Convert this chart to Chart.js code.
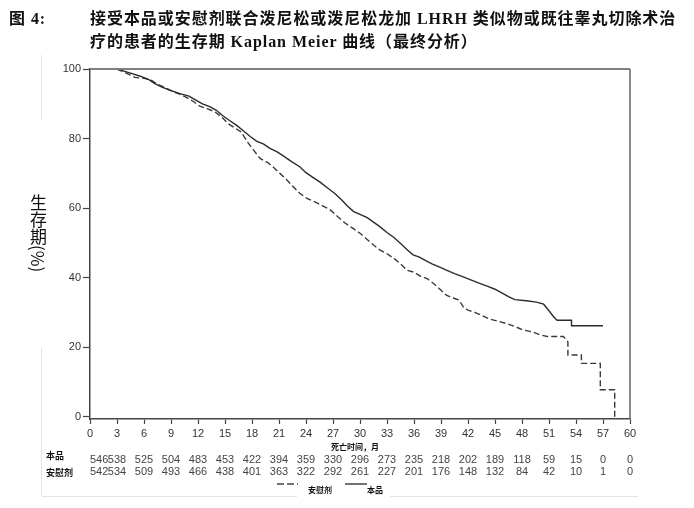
<!DOCTYPE html>
<html>
<head>
<meta charset="utf-8">
<script src="https://cdn.jsdelivr.net/npm/chart.js@4.4.1/dist/chart.umd.min.js"></script>
<style>
  html, body { margin: 0; padding: 0; background: #fff; }
  #wrap { position: relative; width: 694px; height: 508px; overflow: hidden; }
  canvas { position: absolute; left: 0; top: 0; }
  .title { position: absolute; font-family: "Liberation Serif", "Noto Sans CJK SC", serif; font-weight: bold; font-size: 16px; color: #111; white-space: nowrap; letter-spacing: 0.95px; }
  #ytitle { position: absolute; left: 30px; top: 194px; writing-mode: vertical-rl; text-orientation: mixed; font-family: "Noto Sans CJK SC", sans-serif; font-size: 17px; color: #111; line-height: 1; }
</style>
</head>
<body>
<div id="wrap">
  <canvas id="c" width="694" height="508"></canvas>
  <div class="title" style="left:9px; top:5px;">图 4:</div>
  <div class="title" style="left:90px; top:5px;">接受本品或安慰剂联合泼尼松或泼尼松龙加 LHRH 类似物或既往睾丸切除术治</div>
  <div class="title" style="left:90px; top:28px;">疗的患者的生存期 Kaplan Meier 曲线（最终分析）</div>
  <div id="ytitle">生存期(%)</div>
</div>
<script>
// ---- data ----
const drugMonths = [0, 3.0, 3.5, 4.5, 5.5, 6.5, 7.2, 8, 9, 10, 11, 11.8, 12.5, 13.3, 14, 14.8, 15.5, 16.3, 17, 17.8, 18.5, 19.3, 20, 20.8, 21.6, 22.4, 23.3, 24, 24.8, 25.6, 26.4, 27.2, 28, 28.6, 29.3, 30, 30.8, 31.5, 32.2, 33, 33.8, 34.6, 35.3, 35.9, 36.6, 37.3, 38, 38.8, 39.6, 40.5, 41.4, 42.3, 43.3, 44.2, 45, 45.8, 46.5, 47.2, 48.5, 49.6, 50.4, 51.0, 51.5, 51.9, 53.5, 53.5, 57.0];
const drugSurv = [100, 100, 99.6, 98.8, 98.0, 97.0, 95.8, 94.8, 93.8, 92.9, 92.2, 91.0, 90.0, 89.2, 88.2, 86.5, 85.2, 83.8, 82.3, 80.6, 79.3, 78.4, 77.2, 76.2, 74.8, 73.4, 71.9, 70.2, 68.8, 67.4, 65.8, 64.2, 62.3, 60.6, 59.0, 58.2, 57.3, 56.0, 54.7, 53.0, 51.5, 49.6, 47.9, 46.6, 45.9, 44.9, 44.0, 43.1, 42.2, 41.2, 40.3, 39.4, 38.4, 37.5, 36.7, 35.6, 34.6, 33.7, 33.4, 33.0, 32.4, 30.5, 28.8, 27.8, 27.8, 26.2, 26.2];
const placeboMonths = [0, 3.0, 3.6, 4.2, 5.0, 6.0, 6.8, 7.5, 8.2, 9.0, 9.8, 10.6, 11.4, 12.2, 13.0, 13.8, 14.6, 15.3, 16.0, 16.8, 17.5, 18.2, 18.9, 19.8, 20.5, 21.1, 21.8, 22.5, 23.3, 24.1, 25.0, 25.9, 26.7, 27.5, 28.3, 29.1, 30.0, 30.8, 31.5, 32.2, 33.0, 33.8, 34.5, 35.2, 36.0, 36.7, 37.5, 38.2, 39.0, 39.6, 40.3, 41.0, 41.5, 42.0, 42.8, 43.5, 44.3, 45.2, 46.2, 47.2, 48.1, 49.2, 50.0, 50.8, 52.6, 53.1, 53.1, 54.6, 54.6, 56.7, 56.7, 58.3, 58.3];
const placeboSurv = [100, 100, 99.3, 98.6, 97.6, 97.3, 96.8, 95.6, 94.8, 93.8, 92.9, 92.0, 90.8, 89.3, 88.6, 87.8, 86.3, 84.4, 83.2, 81.9, 79.0, 76.6, 74.3, 73.0, 71.5, 70.0, 68.3, 66.4, 64.3, 62.8, 61.8, 60.6, 59.5, 57.6, 55.8, 54.4, 52.8, 51.0, 49.4, 48.0, 46.9, 45.5, 44.0, 42.2, 41.6, 40.5, 39.7, 38.3, 36.4, 35.0, 34.2, 33.6, 31.5, 30.7, 30.0, 29.2, 28.2, 27.6, 26.9, 26.0, 25.0, 24.4, 23.6, 23.1, 23.1, 21.6, 17.8, 17.8, 15.4, 15.4, 7.8, 7.8, 0];
const riskTimes = [0, 3, 6, 9, 12, 15, 18, 21, 24, 27, 30, 33, 36, 39, 42, 45, 48, 51, 54, 57, 60];
const riskDrug = [546, 538, 525, 504, 483, 453, 422, 394, 359, 330, 296, 273, 235, 218, 202, 189, 118, 59, 15, 0, 0];
const riskPlacebo = [542, 534, 509, 493, 466, 438, 401, 363, 322, 292, 261, 227, 201, 176, 148, 132, 84, 42, 10, 1, 0];
const xTicks = [0, 3, 6, 9, 12, 15, 18, 21, 24, 27, 30, 33, 36, 39, 42, 45, 48, 51, 54, 57, 60];
const yTicks = [0, 20, 40, 60, 80, 100];
const rowLabels = ['本品', '安慰剂'];
const xTitle = '死亡时间，月';
const legendLabels = ['安慰剂', '本品'];

const toPts = (xs, ys) => xs.map((x, i) => ({ x: x, y: ys[i] }));

const extras = {
  id: 'extras',
  afterDraw(chart) {
    const ctx = chart.ctx;
    const xs = chart.scales.x, ys = chart.scales.y;
    const a = chart.chartArea;
    ctx.save();
    // faint scan frame lines
    ctx.strokeStyle = '#e4e4e4';
    ctx.lineWidth = 1;
    ctx.beginPath();
    ctx.moveTo(41.5, 55); ctx.lineTo(41.5, 120);
    ctx.moveTo(41.5, 348); ctx.lineTo(41.5, 496);
    ctx.moveTo(42, 496.5); ctx.lineTo(297, 496.5);
    ctx.moveTo(390, 496.5); ctx.lineTo(638, 496.5);
    ctx.stroke();
    // top and right frame
    ctx.strokeStyle = '#808080';
    ctx.lineWidth = 2;
    ctx.beginPath();
    ctx.moveTo(a.left, ys.getPixelForValue(100));
    ctx.lineTo(a.right, ys.getPixelForValue(100));
    ctx.stroke();
    ctx.lineWidth = 1.5;
    ctx.strokeStyle = '#666';
    ctx.beginPath();
    ctx.moveTo(a.right, ys.getPixelForValue(100));
    ctx.lineTo(a.right, a.bottom);
    ctx.stroke();
    // x title
    ctx.fillStyle = '#111';
    ctx.font = 'bold 8px "Noto Sans CJK SC", sans-serif';
    ctx.textAlign = 'center';
    ctx.textBaseline = 'middle';
    ctx.fillText(xTitle, 355, 447);
    // risk table
    ctx.font = 'bold 9px "Noto Sans CJK SC", sans-serif';
    ctx.textAlign = 'left';
    ctx.fillText(rowLabels[0], 46, 456);
    ctx.fillText(rowLabels[1], 46, 473);
    ctx.font = '11px "Liberation Sans", Arial, sans-serif';
    ctx.fillStyle = '#444';
    riskTimes.forEach((t, i) => {
      const px = xs.getPixelForValue(t);
      ctx.textAlign = i === 0 ? 'left' : 'center';
      ctx.fillText(String(riskDrug[i]), px, 460);
      ctx.fillText(String(riskPlacebo[i]), px, 472);
    });
    // legend
    ctx.strokeStyle = '#444';
    ctx.lineWidth = 1.5;
    ctx.setLineDash([7, 3]);
    ctx.beginPath(); ctx.moveTo(277, 484); ctx.lineTo(298, 484); ctx.stroke();
    ctx.setLineDash([]);
    ctx.beginPath(); ctx.moveTo(345, 484); ctx.lineTo(367, 484); ctx.stroke();
    ctx.fillStyle = '#111';
    ctx.font = 'bold 8px "Noto Sans CJK SC", sans-serif';
    ctx.textAlign = 'left';
    ctx.fillText(legendLabels[0], 308, 490);
    ctx.fillText(legendLabels[1], 367, 490);
    ctx.restore();
  }
};

new Chart(document.getElementById('c'), {
  type: 'line',
  data: {
    datasets: [
      { label: '本品', data: toPts(drugMonths, drugSurv), borderColor: '#2b2b2b', borderWidth: 1.4, pointRadius: 0, tension: 0, fill: false },
      { label: '安慰剂', data: toPts(placeboMonths, placeboSurv), borderColor: '#3a3a3a', borderWidth: 1.4, borderDash: [6, 3], pointRadius: 0, tension: 0, fill: false }
    ]
  },
  options: {
    responsive: false,
    animation: false,
    devicePixelRatio: 1,
    layout: { padding: { left: 0, top: 69, right: 64, bottom: 0 } },
    plugins: { legend: { display: false }, tooltip: { enabled: false }, title: { display: false } },
    scales: {
      x: {
        type: 'linear', min: 0, max: 60,
        afterBuildTicks: s => { s.ticks = xTicks.map(v => ({ value: v })); },
        afterFit: s => { s.height = 89; },
        grid: { display: true, drawOnChartArea: false, drawTicks: true, tickLength: 5, tickColor: '#444', tickWidth: 1.2 },
        border: { display: true, color: '#444', width: 1.5 },
        ticks: { color: '#333', font: { family: '"Liberation Sans", Arial, sans-serif', size: 11 }, padding: 3, maxRotation: 0, autoSkip: false }
      },
      y: {
        type: 'linear', min: -0.6, max: 100,
        afterBuildTicks: s => { s.ticks = yTicks.map(v => ({ value: v })); },
        afterFit: s => { s.width = 90; },
        grid: { display: true, drawOnChartArea: false, drawTicks: true, tickLength: 7, tickColor: '#444', tickWidth: 1.2 },
        border: { display: true, color: '#444', width: 1.5 },
        ticks: { color: '#333', font: { family: '"Liberation Sans", Arial, sans-serif', size: 11 }, padding: 2 }
      }
    }
  },
  plugins: [extras]
});
</script>
</body>
</html>
